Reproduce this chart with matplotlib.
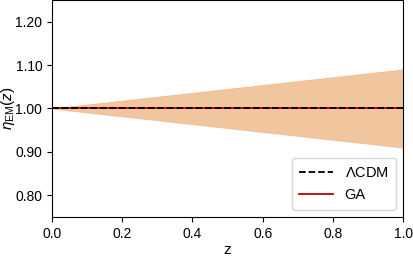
import matplotlib.pyplot as plt

plt.rcParams['font.family'] = ['Liberation Sans', 'DejaVu Sans']
plt.rcParams['mathtext.fontset'] = 'custom'
plt.rcParams['mathtext.rm'] = 'Liberation Sans'
plt.rcParams['mathtext.it'] = 'Liberation Sans:italic'

# redshift grid and reconstructed band
z = [0.0, 0.2, 0.4, 0.6, 0.8, 1.0]
eta_upper = [1.0, 1.018, 1.036, 1.054, 1.072, 1.09]
eta_lower = [1.0, 0.982, 0.964, 0.946, 0.928, 0.91]
eta_ga = [1.0, 1.0, 1.0, 1.0, 1.0, 1.0]
eta_lcdm = [1.0, 1.0, 1.0, 1.0, 1.0, 1.0]

fig = plt.figure(figsize=(4.13, 2.58), dpi=100)
ax = fig.add_axes([0.126, 0.159, 0.85, 0.841])

ax.fill_between(z, eta_lower, eta_upper, color='#e8a060', alpha=0.6, lw=0.8, edgecolor='#f0b080')
ax.plot(z, eta_ga, color='#c00000', lw=1.3, label='GA')
ax.plot(z, eta_lcdm, 'k--', lw=1.3, label=r'$\Lambda$CDM')

ax.set_xlim(0, 1)
ax.set_ylim(0.75, 1.25)
ax.set_yticks([0.8, 0.9, 1.0, 1.1, 1.2])
ax.set_yticklabels(['0.80', '0.90', '1.00', '1.10', '1.20'])
ax.set_xlabel('z', fontsize=11, labelpad=2)
ax.set_ylabel(r'$\eta_{\rm EM}(z)$', fontsize=11)
ax.yaxis.set_label_coords(-0.1, 0.5)
ax.tick_params(labelsize=10)

handles, labels = ax.get_legend_handles_labels()
ax.legend(handles[::-1], labels[::-1], loc='lower right', fontsize=10.5,
          handlelength=2.3, borderpad=0.5, labelspacing=0.6)

fig.savefig('out.png', dpi=100)
